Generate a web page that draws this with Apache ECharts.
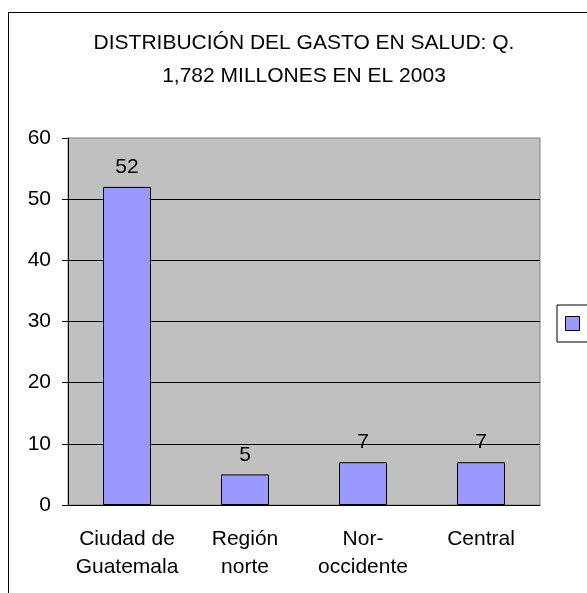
<!DOCTYPE html>
<html>
<head>
<meta charset="utf-8">
<script src="https://cdn.jsdelivr.net/npm/echarts@6/dist/echarts.min.js"></script>
<style>
  html, body { margin: 0; padding: 0; background: #fff; }
  #frame { position: absolute; left: 8px; top: 12px; width: 640px; height: 640px; border-left: 1px solid #000; border-top: 1px solid #000; }
  #chart { position: absolute; left: 0; top: 0; width: 587px; height: 593px; }
</style>
</head>
<body>
<div id="frame"></div>
<div id="chart"></div>
<script>
// datos
const categorias = ["Ciudad de\nGuatemala", "Región\nnorte", "Nor-\noccidente", "Central"];
const valores = [52, 5, 7, 7];
const serieNombre = "Serie1";
const titulo = "DISTRIBUCIÓN DEL GASTO EN SALUD: Q.\n1,782 MILLONES EN EL 2003";

const fuente = "Arial, 'Liberation Sans', sans-serif";

const chart = echarts.init(document.getElementById("chart"));
chart.setOption({
  animation: false,
  title: {
    text: titulo,
    left: 304,
    top: 27,
    padding: 0,
    textAlign: "center",
    textStyle: {
      fontFamily: fuente,
      fontSize: 21,
      fontWeight: "normal",
      color: "#000",
      lineHeight: 33
    }
  },
  legend: {
    left: 557,
    top: 305,
    padding: 8,
    borderColor: "#000",
    borderWidth: 1,
    itemWidth: 14,
    itemHeight: 14,
    icon: "rect",
    data: [serieNombre],
    itemStyle: { color: "#9999FF", borderColor: "#000", borderWidth: 1 },
    textStyle: { fontFamily: fuente, fontSize: 21, color: "#000", padding: [0, 0, 0, 12] }
  },
  grid: {
    left: 68,
    right: 47,
    top: 138,
    bottom: 88,
    show: true,
    backgroundColor: "#C0C0C0",
    borderColor: "#808080",
    borderWidth: 1
  },
  xAxis: {
    type: "category",
    data: categorias,
    axisLine: { lineStyle: { color: "#000", width: 1 } },
    axisTick: { length: 7, lineStyle: { color: "#000" } },
    axisLabel: {
      margin: 20,
      fontFamily: fuente,
      fontSize: 21,
      color: "#000",
      lineHeight: 28,
      interval: 0
    }
  },
  yAxis: {
    type: "value",
    min: 0,
    max: 60,
    interval: 10,
    axisLine: { show: true, lineStyle: { color: "#000", width: 1 } },
    axisTick: { show: true, length: 6, lineStyle: { color: "#000" } },
    axisLabel: { margin: 17, fontFamily: fuente, fontSize: 21, color: "#000" },
    splitLine: { show: true, showMaxLine: false, lineStyle: { color: "#000", width: 1 } }
  },
  series: [{
    name: serieNombre,
    type: "bar",
    data: valores,
    barWidth: 48,
    itemStyle: { color: "#9999FF", borderColor: "#000", borderWidth: 1 },
    label: {
      show: true,
      position: "top",
      distance: 9,
      fontFamily: fuente,
      fontSize: 21,
      color: "#000"
    }
  }]
});
</script>
</body>
</html>
